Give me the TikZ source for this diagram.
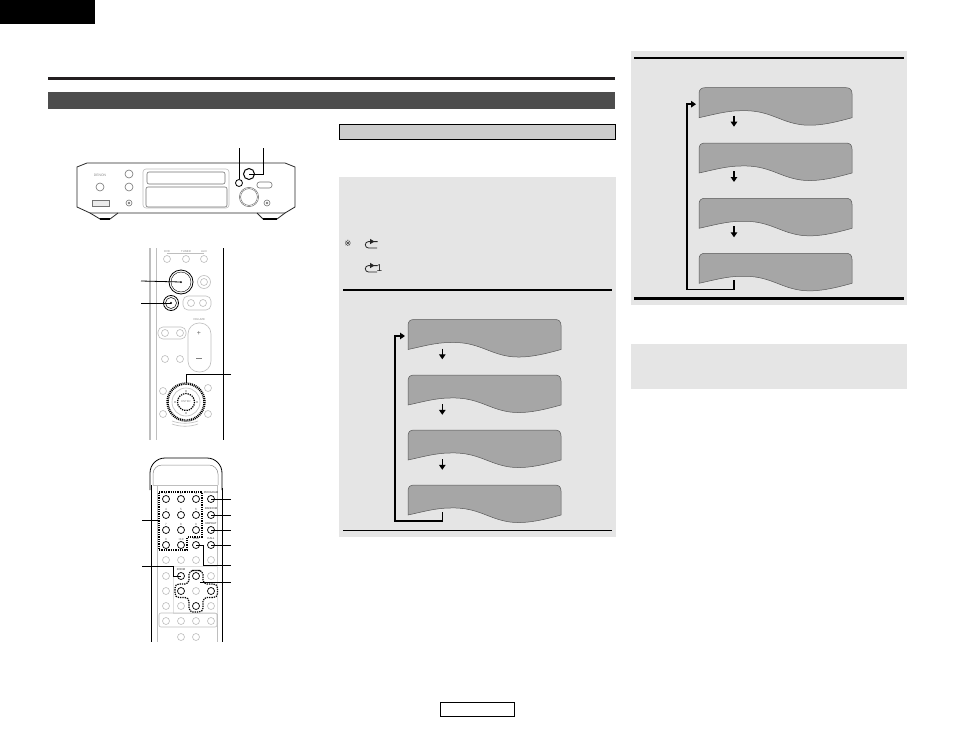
\documentclass[tikz,border=0pt]{standalone}
\usepackage{fontspec}
\setmainfont{Liberation Sans}
\newfontfamily\symfont{DejaVu Sans}
\usetikzlibrary{arrows.meta,calc}
\definecolor{panel}{HTML}{E5E5E5}
\definecolor{wave}{HTML}{A6A6A6}
\definecolor{band}{HTML}{4D4D4D}
\definecolor{rulec}{HTML}{231F20}
\definecolor{soft}{HTML}{BEBEBE}
\tikzset{
  lead/.style={draw=black,line width=0.8pt},
  flow/.style={draw=black,line width=1.6pt,-{Triangle[length=5pt,width=6.5pt]}},
  flowthin/.style={draw=black,line width=1.3pt,-{Triangle[length=5pt,width=6.5pt]}},
  btn/.style={circle,draw=soft,line width=0.6pt,inner sep=0pt,minimum size=7pt,fill=white},
  btnk/.style={circle,draw=black,line width=0.8pt,inner sep=0pt,minimum size=7pt,fill=white},
  devline/.style={draw=black!85,line width=0.8pt},
  softline/.style={draw=soft,line width=0.6pt},
  dots/.style={draw=black,line width=1.2pt,dash pattern=on 1.3pt off 1pt},
  tiny/.style={text=black!45,font=\fontsize{2.8}{3}\selectfont,inner sep=0pt},
  tinyk/.style={text=black!80,font=\fontsize{2.8}{3}\selectfont,inner sep=0pt},
  keynum/.style={text=black!60,font=\fontsize{3}{3}\selectfont,inner sep=0pt},
  wavebox/.style={fill=wave,draw=black!65,line width=0.5pt},
}
\newcommand{\wavepath}[1]{%
  [wavebox] ($(#1)+(0,30)$) -- ($(#1)+(0,6)$)
  .. controls ($(#1)+(0,2)$) and ($(#1)+(2,0)$) .. ($(#1)+(6,0)$)
  -- ($(#1)+(147,0)$)
  .. controls ($(#1)+(151,0)$) and ($(#1)+(153,2)$) .. ($(#1)+(153,6)$)
  -- ($(#1)+(153,30)$)
  .. controls ($(#1)+(135,35)$) and ($(#1)+(118,39)$) .. ($(#1)+(102,37)$)
  .. controls ($(#1)+(80,34)$) and ($(#1)+(70,22)$) .. ($(#1)+(42,23)$)
  .. controls ($(#1)+(28,23)$) and ($(#1)+(14,27)$) .. cycle}
\begin{document}
\begin{tikzpicture}[x=1pt,y=-1pt]
\useasboundingbox (0,0) rectangle (954,736);
\fill[white] (0,0) rectangle (954,736);
% header
\fill[black] (0,0) rectangle (95,24);
\fill[rulec] (48,77) rectangle (615,80);
\fill[band] (48,92) rectangle (615,109);
\draw[fill=black!20,line width=0.9pt] (339.5,124) rectangle (615.5,139.5);
% panels
\fill[panel] (339,177) rectangle (616,537);
\fill[panel] (631,51) rectangle (907,305);
\fill[panel] (631,344) rectangle (907,389);
\fill[black] (343,289) rectangle (612,291);
\fill[black] (343,530) rectangle (612,531);
\fill[black] (634,57) rectangle (904,59);
\fill[black] (634,297) rectangle (904,300);
% note symbols
\node[inner sep=0pt,font=\symfont\fontsize{8.5}{9}\selectfont,text=black!85] (note) at (348,243) {\char"203B};
\coordinate (r1) at (377,248);
\coordinate (r2) at (377,272);
\foreach \r in {r1,r2}{
  \draw[line width=0.8pt,black!85] (\r) -- ++(-8.5,0) arc[start angle=90,end angle=270,radius=3.2] -- ++(9,0);
  \fill[black!85] ($(\r)+(-7,-9.2)$) -- ++(4.5,2.7) -- ++(-4.5,2.7) -- cycle;
}
\node[inner sep=0pt,font=\fontsize{10}{10}\selectfont,text=black!85] (one) at (379.5,268) {1};
% wave stacks, left
\coordinate (L1) at (408,319.5);
\coordinate (L2) at (408,375);
\coordinate (L3) at (408,430);
\coordinate (L4) at (408,485);
\foreach \b in {L1,L2,L3,L4}{ \draw \wavepath{\b}; }
\foreach \b in {L1,L2,L3}{
  \draw[flowthin] ($(\b)+(34.3,29)$) -- ($(\b)+(34.3,39.8)$);
}
\coordinate (Ls) at ($(L4)+(34.3,27)$);
\coordinate (Le) at ($(L1)+(-3,16.5)$);
\draw[flow] (Ls) |- ($(L4)+(-13,36)$) |- (Le);
% wave stacks, right
\coordinate (R1) at (699,87.7);
\coordinate (R2) at (699,143);
\coordinate (R3) at (699,198.3);
\coordinate (R4) at (699,253.3);
\foreach \b in {R1,R2,R3,R4}{ \draw \wavepath{\b}; }
\foreach \b in {R1,R2,R3}{
  \draw[flowthin] ($(\b)+(35,28)$) -- ($(\b)+(35,39)$);
}
\coordinate (Rs) at ($(R4)+(35,27)$);
\coordinate (Re) at ($(R1)+(-3,16.5)$);
\draw[flow] (Rs) |- ($(R4)+(-12.3,36)$) |- (Re);
% page box
\draw[line width=0.9pt] (440.5,702.5) rectangle (514.5,716);

% --- main unit ---
\draw[devline,fill=white] (87,163) -- (285,163) -- (295,167) -- (295,207) -- (285,213) -- (90,213) -- (77,207) -- (77,167) -- cycle;
\draw[devline] (90,213) -- (100,219) -- (110,219) -- (118,213);
\draw[devline] (257,213) -- (263,219) -- (277,219) -- (285,213);
\draw[line width=1.2pt] (100,219) -- (110,219) (263,219) -- (277,219);
\draw[softline,rounded corners=3pt] (143,169) rectangle (229,208);
\draw[draw=black!55,line width=0.6pt,rounded corners=2pt] (147,172) rectangle (225,184);
\draw[draw=black!55,line width=0.6pt,rounded corners=2pt] (146,187) rectangle (227,207);
\node[tiny,font=\fontsize{3.4}{4}\selectfont] (logo) at (100,175) {DENON};
\foreach \n/\x/\y in {a/129/174,b/129/187,c/100/187}{
  \node[circle,draw=black!55,line width=0.6pt,inner sep=0pt,minimum size=8pt] (u\n) at (\x,\y) {};
}
\node[circle,draw=black!55,line width=0.6pt,inner sep=0pt,minimum size=6pt] (ud) at (129,203) {};
\node[circle,draw=black!55,line width=0.6pt,inner sep=0pt,minimum size=6pt] (ue) at (267,203) {};
\fill[black!50] (129,203) circle (1.3) (267,203) circle (1.3);
\draw[draw=black!55,line width=0.6pt,fill=black!8] (92,200) rectangle (109,206);
\draw[draw=black!55,line width=0.6pt,rounded corners=2.5pt] (257,182) rectangle (272,188);
\node[circle,draw=black!60,double=white,double distance=0.5pt,line width=0.6pt,inner sep=0pt,minimum size=18pt] (knob) at (249,197) {};
\node[btnk,minimum size=7pt] (ustop) at (239,183) {};
\node[btnk,minimum size=11pt,line width=1pt] (uopen) at (249,174) {};
\coordinate (t1) at (239,148);
\coordinate (t2) at (263,148);
\draw[lead] (t1) -- (ustop);
\draw[lead] (t2) |- (uopen.center);

% --- remote 1 ---
\draw[soft,line width=2pt] (150,248) -- (150,440);
\draw[softline] (156,248) -- (156,440);
\draw[black,line width=0.8pt] (223,248) -- (223,440);
\draw[softline] (167,253) -- (204,253);
\foreach \n/\x/\y in {dvd/167/259,tun/186/259,aux/204/259,ss1/191/303,ss2/203/303,su1/165/333,su2/180/333,bb1/165/359,bb2/180/359,rt/163/391,mn/208/388,sl/163/414,mu/208/414}{
  \node[btn] (\n) at (\x,\y) {};
}
\node[tiny,fill=white] at (167,252) {DVD};
\node[tiny,fill=white] at (186,252) {TUNER};
\node[tiny,fill=white] at (204,252) {AUX};
\node[btn,minimum size=13pt] (pau) at (204,282) {};
\node[btn,minimum size=7pt] (pau2) at (204,282) {};
\begin{scope}[on background layer/.style={}]
\draw[softline,rounded corners=5pt] (183,296) rectangle (211,310);
\draw[softline,rounded corners=5pt] (158,327) rectangle (186,339);
\draw[softline,rounded corners=11pt] (188,323) rectangle (211,372);
\end{scope}
\node[tiny] at (199,319.5) {VOLUME};
\node[inner sep=0pt,text=black!60,font=\fontsize{7}{7}\selectfont] at (199,333) {+};
\draw[black!50,line width=0.5pt] (196,358) -- (202,358);
\draw[softline] (172,424) .. controls (180,427) and (190,427) .. (198,424);
\draw[softline] (172,421) .. controls (180,424) and (190,424) .. (198,421);
\node[circle,draw=black,line width=0.8pt,inner sep=0pt,minimum size=24pt] (play) at (181,282) {};
\draw[black,line width=0.4pt] (181,282) circle (10);
\fill (181,282) circle (1);
\node[circle,draw=black,line width=0.8pt,inner sep=0pt,minimum size=15pt] (stop) at (171,303) {};
\draw[black,line width=0.5pt] (171,303) circle (5.5);
\fill (171,303) circle (1.2);
\coordinate (dial) at (186,402);
\draw[soft,line width=0.6pt] (dial) circle (14);
\draw[black,line width=2.4pt,dash pattern=on 1pt off 0.9pt] (dial) circle (18.5);
\draw[dots] (dial) circle (8.5);
\node[tiny] at (186,402) {ENTER};
\foreach \a in {0,90,180,270}{ \fill[black] ($(dial)+(\a:11)$) circle (0.7); }
\coordinate (p1) at (141,281);
\coordinate (p2) at (141,303);
\coordinate (p3) at (231,374);
\coordinate (p3e) at (186,383);
\draw[lead] (p1) -- (play.center);
\draw[lead] (p2) -- (stop.center);
\draw[lead] (p3) -| (p3e);

% --- remote 2 ---
\draw[black,line width=0.8pt,rounded corners=15pt] (150,490) -- (150,458) -- (222,458) -- (222,490);
\draw[black,line width=0.8pt] (222,488) -- (222,642);
\draw[black,line width=1.8pt] (151.5,485) -- (151.5,642);
\draw[draw=black!45,line width=0.5pt,rounded corners=9pt] (153,485) -- (153,465) -- (218,465) -- (218,485);
\draw[soft,line width=0.6pt] (153,485) -- (218,485);
\draw[softline] (157,485) -- (157,642);
\draw[softline] (217,485) -- (217,642);
\draw[black!12,line width=0.5pt] (173,566) rectangle (217,613);
\draw[softline,rounded corners=2pt] (159,613) rectangle (217,627);
\foreach \n/\x/\y in {s1/166/560,s2/181/560,s3/196/560,s4/211/560,s5/166/576,s6/211/576,s7/196/591,s8/166/591,s9/166/606,s10/181/606,s11/211/606,s12/166/621,s13/181/621,s14/196/621,s15/211/621,s16/181/637,s17/196/637}{
  \node[btn] (\n) at (\x,\y) {};
}
\foreach \n/\x/\y/\t in {k1/166/499/1,k2/181/499/2,k3/196/499/3,k4/166/515/4,k5/181/515/5,k6/196/515/6,k7/166/530/7,k8/181/530/8,k9/196/530/9,k0/166/545/0,k10/181/545/+10}{
  \node[btnk,line width=0.7pt] (\n) at (\x,\y) {};
  \node[keynum] (\n t) at (\x,\y-6) {\t};
}
\foreach \n/\y in {c1/499,c2/515,c3/530,c4/545}{
  \node[btnk,line width=0.7pt] (\n) at (211,\y) {};
}
\node[tinyk] at (211,493) {PROGRAM};
\node[tinyk] at (211,508.5) {RANDOM};
\node[tinyk] at (211,524) {REPEAT};
\node[tinyk] at (211,539) {CALL};
\node[tinyk] at (196,539) {OSD};
\node[tinyk] at (181,569.5) {ZOOM};
\node[btnk,line width=0.7pt] (osd) at (196,545) {};
\node[btnk,line width=0.7pt] (zoom) at (181,576) {};
\node[btnk,line width=0.7pt] (du) at (196,576) {};
\node[btnk,line width=0.7pt] (dl) at (181,591) {};
\node[btnk,line width=0.7pt] (dr) at (211,591) {};
\node[btnk,line width=0.7pt] (dd) at (196,606) {};
\draw[dots] (159,492) -- (202,492) -- (202,537) -- (187,537) -- (187,550) -- (159,550) -- cycle;
\draw[dots,rounded corners=4pt] (196,570.5) -- (203,570.5) -- (203,584) -- (217.5,584) -- (217.5,597.5) -- (203,597.5) -- (203,612) -- (189,612) -- (189,597.5) -- (175,597.5) -- (175,584) -- (189,584) -- (189,570.5) -- cycle;
\foreach \n/\y in {c1/499,c2/515,c3/530,c4/545}{
  \coordinate (e\n) at (231,\y);
  \draw[lead] (\n.center) -- (e\n);
}
\coordinate (e5) at (231,565);
\coordinate (e6) at (231,582);
\coordinate (e6s) at (200,582);
\coordinate (l1) at (142,520);
\coordinate (l1e) at (159,520);
\coordinate (l2) at (142,566);
\draw[lead] (osd.center) -- (203,545) -- (203,565) -- (e5);
\draw[lead] (e6s) -- (e6);
\draw[lead] (l1) -- (l1e);
\draw[lead] (l2) -- (173,566) -- (173,576) -- (zoom.center);
\end{tikzpicture}
\end{document}
